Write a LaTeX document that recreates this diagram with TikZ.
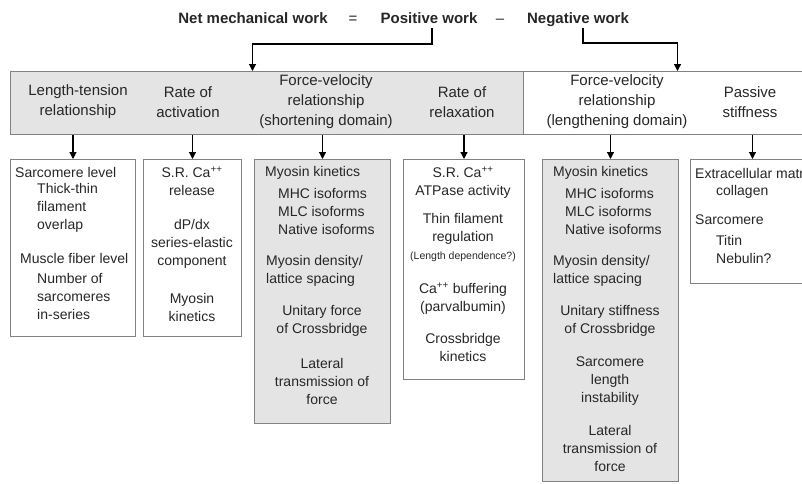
\documentclass[tikz,border=0pt]{standalone}
\usepackage{fontspec}
\setmainfont{Liberation Sans}
\usetikzlibrary{arrows.meta}
\definecolor{boxgray}{RGB}{228,228,228}
\definecolor{edgegray}{RGB}{130,130,130}
\tikzset{
  arr/.style={-{Triangle[length=7pt,width=7pt]},line width=1.2pt,black},
  box/.style={draw=edgegray,line width=1pt,anchor=north west,inner sep=0pt},
  txt/.style={inner sep=0pt,font=\fontsize{14}{18}\selectfont,text=black!85,align=left},
  ctxt/.style={txt,align=center},
  bandtxt/.style={inner sep=0pt,font=\fontsize{15}{20}\selectfont,text=black!85,align=center},
  head/.style={inner sep=2pt,text height=11pt,text depth=3pt,font=\bfseries\fontsize{15}{18}\selectfont,text=black!85}
}
\begin{document}
\begin{tikzpicture}[x=1pt,y=1pt]
\useasboundingbox (0,0) rectangle (802,-483);
\clip (0,0) rectangle (802,-483);
% header
\node[head] (net) at (253,-19) {Net mechanical work};
\node[head,font=\fontsize{15}{18}\selectfont] (eq) at (353,-19) {=};
\node[head] (pos) at (429,-19) {Positive work};
\node[head,font=\fontsize{15}{18}\selectfont] (minus) at (500,-19) {--};
\node[head] (neg) at (578,-19) {Negative work};
% band
\node[box,fill=boxgray,minimum width=513pt,minimum height=63pt] (bandL) at (10,-71) {};
\node[box,fill=white,minimum width=308pt,minimum height=63pt] (bandR) at (523,-71) {};
\node[bandtxt] (lt) at (78,-102) {Length-tension\\relationship};
\node[bandtxt] (ra) at (188,-102) {Rate of\\activation};
\node[bandtxt] (fvs) at (326,-102) {Force-velocity\\relationship\\(shortening domain)};
\node[bandtxt] (rr) at (462,-102) {Rate of\\relaxation};
\node[bandtxt] (fvl) at (617,-102) {Force-velocity\\relationship\\(lengthening domain)};
\node[bandtxt] (ps) at (750,-102) {Passive\\stiffness};
\draw[arr] ([xshift=3pt]pos.south) -- ([xshift=3pt]pos.south |- 0,-44) -| ([xshift=-14.5pt]bandL.north);
\draw[arr] ([xshift=5pt]neg.south) -- ([xshift=5pt]neg.south |- 0,-43) -| (bandR.north);
% boxes
\node[box,minimum width=125pt,minimum height=177pt] (b1) at (10,-159) {};
\node[box,minimum width=98pt,minimum height=177pt] (b2) at (143,-159) {};
\node[box,fill=boxgray,minimum width=136pt,minimum height=264pt] (b3) at (254,-159) {};
\node[box,minimum width=121pt,minimum height=220pt] (b4) at (403,-159) {};
\node[box,fill=boxgray,minimum width=136pt,minimum height=322pt] (b5) at (542,-159) {};
\node[box,minimum width=124pt,minimum height=124pt] (b6) at (690,-159) {};
\foreach \b in {b1,b2,b3,b4,b5,b6}
  \draw[arr] (bandL.south -| \b.north) -- (\b.north);
% box 1
\node[txt,anchor=west] (sl) at (15,-172) {Sarcomere level};
\node[txt,anchor=west] (tt) at (37,-208) {Thick-thin\\filament\\overlap};
\node[txt,anchor=west] (mf) at (20,-258) {Muscle fiber level};
\node[txt,anchor=west] (ns) at (37,-296) {Number of\\sarcomeres\\in-series};
% box 2
\node[ctxt] (src) at (192,-181) {S.R. Ca\textsuperscript{++}\\release};
\node[ctxt] (dp) at (192,-244) {dP/dx\\series-elastic\\component};
\node[ctxt] (mk) at (192,-307) {Myosin\\kinetics};
% box 3
\node[txt,anchor=west] (mks) at (265,-173) {Myosin kinetics};
\node[txt,anchor=west] (iss) at (278,-211) {MHC isoforms\\MLC isoforms\\Native isoforms};
\node[txt,anchor=west] (mds) at (266,-271) {Myosin density/\\lattice spacing};
\node[ctxt] (uf) at (322,-321) {Unitary force\\of Crossbridge};
\node[ctxt] (lts) at (322,-381) {Lateral\\transmission of\\force};
% box 4
\node[ctxt] (atp) at (463,-182.5) {S.R. Ca\textsuperscript{++}\\ATPase activity};
\node[ctxt] (tf) at (463,-229) {Thin filament\\regulation};
\node[ctxt,font=\fontsize{10.5}{12}\selectfont] (ld) at (463,-257) {(Length dependence?)};
\node[ctxt] (cab) at (463,-299) {Ca\textsuperscript{++} buffering\\(parvalbumin)};
\node[ctxt] (cbk) at (463,-347) {Crossbridge\\kinetics};
% box 5
\node[txt,anchor=west] (mkl) at (553,-173) {Myosin kinetics};
\node[txt,anchor=west] (isl) at (565,-211) {MHC isoforms\\MLC isoforms\\Native isoforms};
\node[txt,anchor=west] (mdl) at (553,-271) {Myosin density/\\lattice spacing};
\node[ctxt] (us) at (610,-321) {Unitary stiffness\\of Crossbridge};
\node[ctxt] (sli) at (610,-381) {Sarcomere\\length\\instability};
\node[ctxt] (ltl) at (610,-448) {Lateral\\transmission of\\force};
% box 6
\node[txt,anchor=west] (ecm) at (695,-173) {Extracellular matrix};
\node[txt,anchor=west] (col) at (716,-192) {collagen};
\node[txt,anchor=west] (sar) at (695,-220) {Sarcomere};
\node[txt,anchor=west] (tn) at (716,-249) {Titin\\Nebulin?};
\end{tikzpicture}
\end{document}
